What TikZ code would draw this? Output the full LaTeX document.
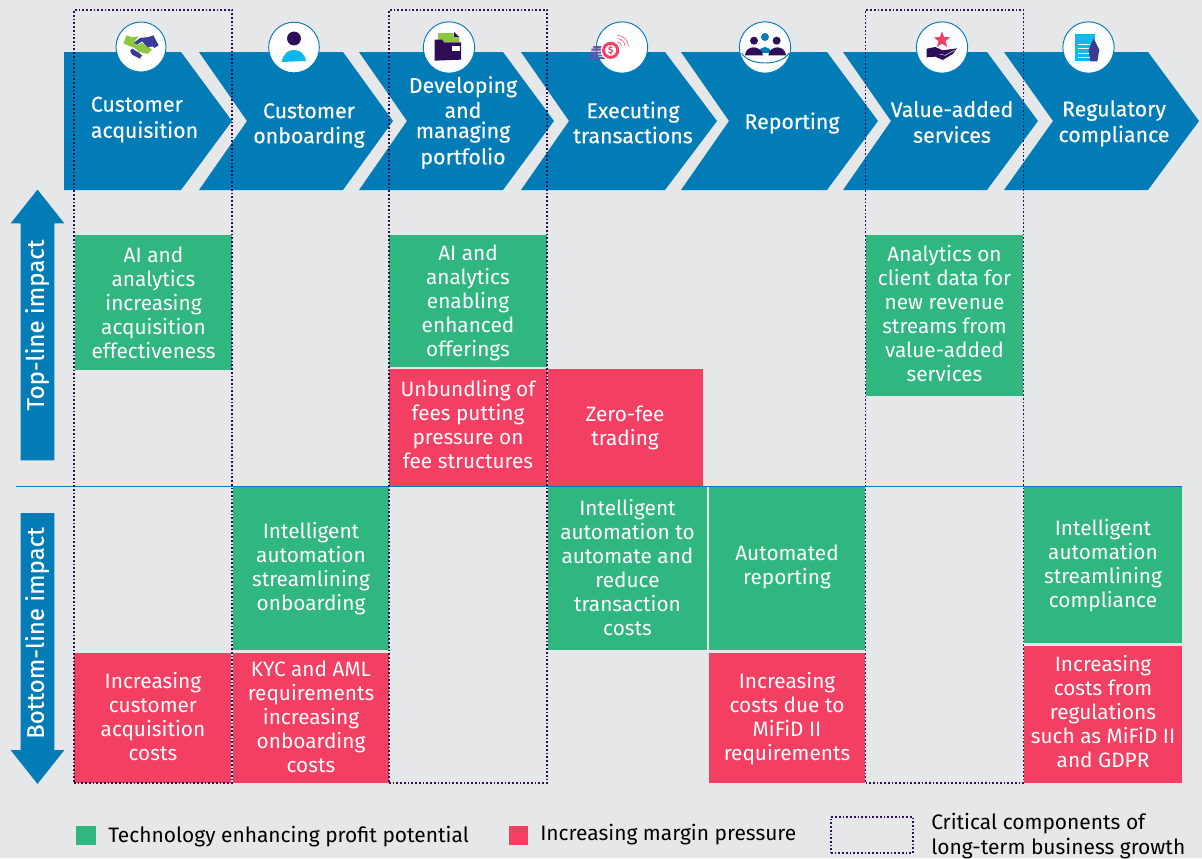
\documentclass[tikz,border=0pt]{standalone}
\usepackage{fontspec}
\usepackage{tikz}
\usetikzlibrary{positioning,shapes.arrows,shapes.geometric}
\setmainfont{Fira Sans}
\newfontfamily\headfont[FakeBold=0.3]{Fira Sans}
\definecolor{bgcol}{HTML}{E6E7E9}
\definecolor{chevcol}{HTML}{027CB7}
\definecolor{goodcol}{HTML}{30B77F}
\definecolor{badcol}{HTML}{F23F62}
\definecolor{inkcol}{HTML}{2E0F57}
\definecolor{limecol}{HTML}{8DC63F}
\definecolor{indigocol}{HTML}{3B3A96}
\definecolor{skycol}{HTML}{0DB9E9}
\definecolor{stackcol}{HTML}{6A52A8}
\tikzset{
  box size/.code 2 args={\pgfkeysalso{minimum width=#1*0.75pt,minimum height=#2*0.75pt}},
  icon scope/.style={shift={#1},x=0.25pt,y=-0.25pt}
}

\begin{document}
\begin{tikzpicture}[x=0.75pt,y=-0.75pt,
  good box/.style={rectangle,fill=goodcol,text=white,inner sep=0pt,align=center,font=\fontsize{15.6}{18}\selectfont},
  bad box/.style={rectangle,fill=badcol,text=white,inner sep=0pt,align=center,font=\fontsize{15.6}{18}\selectfont},
  crit box/.style={rectangle,draw=inkcol,line width=0.85pt,dash pattern=on 1.3pt off 1.5pt,inner sep=0pt},
  head node/.style={text=white,align=center,font=\headfont\fontsize{16}{18.8}\selectfont},
  icon node/.style={circle,fill=white,draw=chevcol,line width=0.7pt,inner sep=0pt},
  impact arrow/.style={single arrow,fill=chevcol,inner xsep=0pt,inner ysep=12.4pt,minimum width=39.75pt,minimum height=203pt,
    single arrow head extend=7.5pt,single arrow tip angle=77,single arrow head indent=0pt},
  impact text/.style={text=white,rotate=90,font=\headfont\fontsize{18}{20}\selectfont},
  key text/.style={anchor=west,text=black,align=left,inner sep=0pt,font=\fontsize{15.7}{18.5}\selectfont}]

  \fill[bgcol] (0,0) rectangle (1202,858);

  % chevrons
  \foreach \lf/\nt/\tr/\tp in {64/64/181/232,199/247/343/393,359/407/503/554,521/569/665/717,
    681/729/827/878,843/891/987/1038,1004/1053/1148/1199}
    \fill[chevcol] (\lf,52) -- (\tr,52) -- (\tp,121) -- (\tr,190) -- (\lf,190) -- (\nt,121) -- cycle;

  \node[head node,align=left] (acquire) at (144.5,119.5) {Customer\\[0.8pt]acquisition};
  \node[head node] (onboard) at (309,125.5) {Customer\\onboarding};
  \node[head node] (portfolio) at (463,122.5) {Developing\\and\\[-3.6pt]managing\\[0.8pt]portfolio};
  \node[head node] (execute) at (633,122.5) {Executing\\transactions};
  \node[head node] (report) at (792,123) {Reporting};
  \node[head node] (value) at (952,122) {Value-added\\[0.5pt]services};
  \node[head node] (comply) at (1114,123.5) {Regulatory\\[0.5pt]compliance};

  % icons
  \node[icon node,minimum size=37.5pt] (iacquire) at (141,47) {};
  \node[icon node,minimum size=38pt] (ionboard) at (294,47.5) {};
  \node[icon node,minimum size=38.5pt] (iportfolio) at (449,47.5) {};
  \node[icon node,minimum size=38.5pt] (iexecute) at (622,47.5) {};
  \node[icon node,minimum size=38.5pt] (ireport) at (765,47.5) {};
  \node[icon node,minimum size=38.5pt] (ivalue) at (942,47.5) {};
  \node[icon node,minimum size=38.5pt] (icomply) at (1088.5,47.5) {};

  \begin{scope}[icon scope={(110,18)}]
    \fill[limecol] (40,76) -- (50,52) -- (64,58) -- (86,55) -- (72,72) -- (82,82) -- (96,74) -- (126,95) -- (112,108) -- (88,102) -- (74,90) -- (58,84) -- cycle;
    \fill[indigocol] (72,74) -- (90,60) -- (116,57) -- (130,52) -- (146,82) -- (133,90) -- (128,85) -- (114,88) -- (96,70) -- (82,80) -- cycle;
    \fill[indigocol] (60,98) -- (68,92) -- (76,98) -- (84,102) -- (96,112) -- (90,122) -- (78,116) -- (66,110) -- cycle;
  \end{scope}
  \fill[inkcol] (294,38.5) circle (5.2pt);
  \fill[skycol] (281.5,62) .. controls (284,53) and (288,50) .. (294,50) .. controls (300,50) and (305,54) .. (306,61) -- cycle;
  \begin{scope}[icon scope={(418,18)}]
    \fill[limecol] (60,45) -- (106,45) -- (108,60) -- (124,60) -- (124,72) -- (60,72) -- cycle;
    \fill[inkcol] (108,42) -- (125,58) -- (108,58) -- cycle;
    \fill[inkcol] (50,65) -- (72,65) -- (78,73) -- (129,73) -- (129,125) -- (50,128) -- cycle;
    \fill[white] (102,85) rectangle (127,98);
  \end{scope}
  \begin{scope}[icon scope={(578,18)}]
    \fill[stackcol] (46,84) rectangle (78,90) (40,92) rectangle (75,98) (38,101) rectangle (76,107) (36,110) rectangle (78,115) (30,117) rectangle (84,123);
    \fill[white] (98,97) circle (7.5pt);
    \draw[badcol,line width=2.2pt] (98,97) circle (5.3pt);
    \node[inner sep=0pt,text=badcol,font=\bfseries\fontsize{7}{8}\selectfont] (dollar) at (98,97) {\$};
    \draw[badcol!80,line width=0.5pt] (118,72) arc (90:0:3.25pt) (118,62) arc (90:0:5.75pt) (118,52) arc (90:0:8.25pt);
  \end{scope}
  \begin{scope}[icon scope={(735,18)}]
    \fill[chevcol] (90,57) circle (3pt);
    \fill[inkcol] (57,68) circle (3pt) (125,68) circle (3pt);
    \fill[chevcol] (72,104) .. controls (72,80) and (108,80) .. (108,104) -- cycle;
    \fill[inkcol] (30,112) .. controls (32,80) and (78,80) .. (84,112) -- cycle;
    \fill[inkcol] (100,112) .. controls (104,80) and (150,80) .. (153,112) -- cycle;
    \draw[chevcol,line width=0.7pt] (20,105) .. controls (40,145) and (140,145) .. (162,105);
  \end{scope}
  \begin{scope}[icon scope={(912,18)}]
    \node[star,star points=5,star point ratio=2.4,fill=badcol,inner sep=0pt,minimum size=13pt] (starmark) at (90,66) {};
    \fill[inkcol] (44,92) -- (70,87) -- (92,97) -- (135,91) -- (122,108) -- (92,126) -- (70,116) -- (44,118) -- cycle;
    \draw[white,line width=0.3pt] (82,108) -- (100,112) -- (128,96);
  \end{scope}
  \begin{scope}[icon scope={(1057,18)}]
    \fill[skycol] (55,47) rectangle (113,130);
    \draw[white,line width=0.6pt] (62,80) -- (100,80) (62,92) -- (100,92) (62,105) -- (100,105) (62,118) -- (100,118);
    \fill[indigocol] (110,62) -- (127,95) -- (121,130) -- (100,130) -- (95,95) -- cycle;
  \end{scope}

  % impact arrows
  \node[impact arrow,rotate=90] (uparrow) at (37.5,335.5) {};
  \node[impact arrow,rotate=-90] (downarrow) at (37.5,638) {};
  \node[impact text] (topline) at (37,325) {Top-line impact};
  \node[impact text] (botline) at (37,633) {Bottom-line impact};

  % divider
  \coordinate (divl) at (16,486.5);
  \coordinate (divr) at (1182,486.5);
  \draw[chevcol,line width=0.8pt] (divl) -- (divr);

  % top-line boxes
  \node[good box,box size={157}{135}] (g1) at (153.5,302.5) {AI and\\analytics\\increasing\\acquisition\\effectiveness};
  \node[good box,box size={158}{132},text depth=0pt] (g2) at (468,301) {AI and\\analytics\\enabling\\enhanced\\offerings};
  \node[bad box,box size={158}{117},text depth=4.5pt] (r2) [below=1.1pt of g2] {Unbundling of\\fees putting\\pressure on\\fee structures};
  \node[bad box,box size={155}{117},text depth=2pt] (r3) [right=0pt of r2] {Zero-fee\\trading};
  \node[good box,box size={157}{161},text depth=3pt] (g3) at (944.5,315.5) {Analytics on\\client data for\\new revenue\\streams from\\value-added\\services};

  % bottom-line boxes
  \node[good box,box size={156}{163}] (g4) at (311,568.5) {Intelligent\\automation\\streamlining\\onboarding};
  \node[bad box,box size={156}{130},text depth=3pt] (r4) [below=2pt of g4] {KYC and AML\\requirements\\increasing\\onboarding\\costs};
  \node[bad box,box size={157}{130},text depth=3pt] (r5) [left=0.75pt of r4] {Increasing\\customer\\acquisition\\costs};
  \node[good box,box size={159}{163},text depth=1.5pt] (g5) at (627.5,568.5) {Intelligent\\automation to\\automate and\\reduce\\transaction\\costs};
  \node[good box,box size={156}{163},text depth=5pt] (g6) at (787,568.5) {Automated\\reporting};
  \node[bad box,box size={156}{130},text depth=2pt] (r6) [below=2pt of g6] {Increasing\\costs due to\\MiFiD II\\requirements};
  \node[good box,box size={158}{156},text depth=2pt] (g7) at (1103,565) {Intelligent\\automation\\streamlining\\compliance};
  \node[bad box,box size={158}{137},text depth=4.5pt] (r7) [below=2pt of g7] {Increasing\\costs from\\regulations\\such as MiFiD II\\and GDPR};

  % critical components
  \node[crit box,box size={158}{773}] (c1) at (153,396.5) {};
  \node[crit box,box size={158}{773}] (c2) at (468,396.5) {};
  \node[crit box,box size={158}{773}] (c3) at (944.5,396.5) {};

  % legend
  \node[rectangle,fill=goodcol,box size={20}{19},inner sep=0pt] (kgood) at (86,835.5) {};
  \node[key text] (tgood) at (108,836.5) {Technology enhancing profit potential};
  \node[rectangle,fill=badcol,box size={19}{19},inner sep=0pt] (kbad) at (518.5,835.5) {};
  \node[key text] (tbad) at (540,834.5) {Increasing margin pressure};
  \node[crit box,box size={82}{36}] (kcrit) at (872,835) {};
  \node[key text] (tcrit) at (931,836) {Critical components of\\long-term business growth};

\end{tikzpicture}
\end{document}
